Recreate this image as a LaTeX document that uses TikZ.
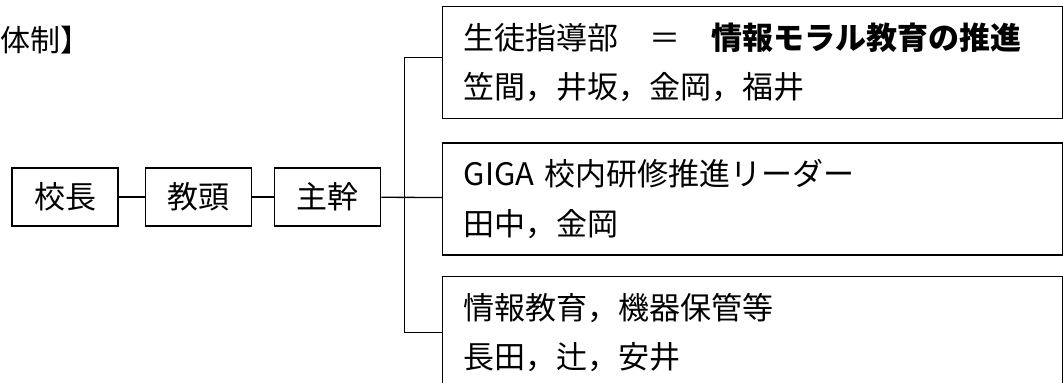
\documentclass[tikz,border=0pt]{standalone}
\usepackage{fontspec}
\setmainfont{Noto Sans CJK JP}
\usetikzlibrary{positioning}
\tikzset{
    % Stile per le cariche (校長, 教頭, 主幹)
    post/.style={draw, rectangle, line width=1pt, align=center,
                 minimum width=79.5pt, minimum height=43.5pt,
                 inner sep=0pt, font=\fontsize{23.25pt}{37pt}\selectfont},
    % Stile per i compiti (riquadri a destra)
    duty/.style={draw, rectangle, line width=1pt, align=left,
                 text width=433.5pt, inner xsep=15.75pt, inner ysep=0pt,
                 minimum height=84pt, font=\fontsize{23.25pt}{37pt}\selectfont},
    wire/.style={line width=1pt}
}

\begin{document}
\begin{tikzpicture}[x=0.75pt,y=-0.75pt]
  \clip (0,0) rectangle (1063,382);
  \node[anchor=west, inner sep=0pt, font=\fontsize{22.5pt}{27pt}\selectfont] (title) at (0,40) {体制】};
  \node[post] (kocho) at (65,197) {校長};
  \node[post, right=19.5pt of kocho] (kyoto) {教頭};
  \node[post, right=16.5pt of kyoto] (shukan) {主幹};
  \node[duty, anchor=north west] (shido) at (442,6)
       {生徒指導部　＝　\textbf{情報モラル教育の推進}\\笠間，井坂，金岡，福井};
  \node[duty, below=17.25pt of shido] (giga) {GIGA 校内研修推進リーダー\\田中，金岡};
  \node[duty, below=15pt of giga] (kiki) {情報教育，機器保管等\\長田，辻，安井};
  \coordinate[right=17.25pt of shukan.east] (hub);
  \draw[wire] (kocho) -- (kyoto);
  \draw[wire] (kyoto) -- (shukan);
  \draw[wire] (shukan) -- (giga);
  \draw[wire] ([yshift=3.75pt]shido.west) -| (hub) |- (kiki.west);
\end{tikzpicture}
\end{document}
